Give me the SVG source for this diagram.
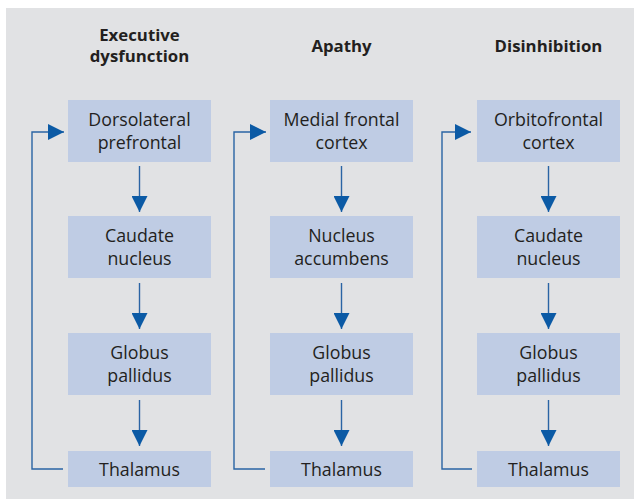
<svg xmlns="http://www.w3.org/2000/svg" width="634" height="499" viewBox="0 0 634 499">
<style>
.box{fill:#bfcce4}
.t{font-family:"Open Sans","Noto Sans","Liberation Sans",sans-serif;font-size:17.8px;fill:#231f20;text-anchor:middle}
.h{font-family:"Open Sans","Noto Sans","Liberation Sans",sans-serif;font-size:16.8px;font-weight:bold;fill:#231f20;text-anchor:middle}
.ln{fill:none;stroke:#2a64a4;stroke-width:1.4}
</style>
<defs>
<marker id="ah" viewBox="0 0 16 16" refX="16" refY="8" markerWidth="16" markerHeight="16" markerUnits="userSpaceOnUse" orient="auto">
<path d="M0,0 L16,8 L0,16 Z" fill="#0b5aa5"/>
</marker>
</defs>
<rect x="6" y="8" width="628" height="491" fill="#e1e2e4"/>
<g id="headers">
<text class="h" x="139.5" y="41">Executive</text>
<text class="h" x="139.5" y="62">dysfunction</text>
<text class="h" x="341.5" y="52">Apathy</text>
<text class="h" x="548.5" y="52">Disinhibition</text>
</g>
<g id="c1n1"><rect class="box" x="68" y="100" width="143" height="62"/><text class="t" x="139.5" y="126">Dorsolateral</text><text class="t" x="139.5" y="148.5">prefrontal</text></g>
<g id="c1n2"><rect class="box" x="68" y="216" width="143" height="62"/><text class="t" x="139.5" y="242">Caudate</text><text class="t" x="139.5" y="264.5">nucleus</text></g>
<g id="c1n3"><rect class="box" x="68" y="333" width="143" height="62"/><text class="t" x="139.5" y="359">Globus</text><text class="t" x="139.5" y="381.5">pallidus</text></g>
<g id="c1n4"><rect class="box" x="68" y="451" width="143" height="36"/><text class="t" x="139.5" y="475.5">Thalamus</text></g>
<g id="c2n1"><rect class="box" x="270" y="100" width="143" height="62"/><text class="t" x="341.5" y="126">Medial frontal</text><text class="t" x="341.5" y="148.5">cortex</text></g>
<g id="c2n2"><rect class="box" x="270" y="216" width="143" height="62"/><text class="t" x="341.5" y="242">Nucleus</text><text class="t" x="341.5" y="264.5">accumbens</text></g>
<g id="c2n3"><rect class="box" x="270" y="333" width="143" height="62"/><text class="t" x="341.5" y="359">Globus</text><text class="t" x="341.5" y="381.5">pallidus</text></g>
<g id="c2n4"><rect class="box" x="270" y="451" width="143" height="36"/><text class="t" x="341.5" y="475.5">Thalamus</text></g>
<g id="c3n1"><rect class="box" x="477" y="100" width="143" height="62"/><text class="t" x="548.5" y="126">Orbitofrontal</text><text class="t" x="548.5" y="148.5">cortex</text></g>
<g id="c3n2"><rect class="box" x="477" y="216" width="143" height="62"/><text class="t" x="548.5" y="242">Caudate</text><text class="t" x="548.5" y="264.5">nucleus</text></g>
<g id="c3n3"><rect class="box" x="477" y="333" width="143" height="62"/><text class="t" x="548.5" y="359">Globus</text><text class="t" x="548.5" y="381.5">pallidus</text></g>
<g id="c3n4"><rect class="box" x="477" y="451" width="143" height="36"/><text class="t" x="548.5" y="475.5">Thalamus</text></g>
<g id="connectors">
<path class="ln" d="M139.5,166 V212" marker-end="url(#ah)"/>
<path class="ln" d="M139.5,283 V329" marker-end="url(#ah)"/>
<path class="ln" d="M139.5,400 V446" marker-end="url(#ah)"/>
<path class="ln" d="M63,469 H32 V132 H64" marker-end="url(#ah)"/>
<path class="ln" d="M341.5,166 V212" marker-end="url(#ah)"/>
<path class="ln" d="M341.5,283 V329" marker-end="url(#ah)"/>
<path class="ln" d="M341.5,400 V446" marker-end="url(#ah)"/>
<path class="ln" d="M265,469 H234 V132 H266" marker-end="url(#ah)"/>
<path class="ln" d="M548.5,166 V212" marker-end="url(#ah)"/>
<path class="ln" d="M548.5,283 V329" marker-end="url(#ah)"/>
<path class="ln" d="M548.5,400 V446" marker-end="url(#ah)"/>
<path class="ln" d="M472,469 H442 V132 H471" marker-end="url(#ah)"/>
</g>
</svg>
